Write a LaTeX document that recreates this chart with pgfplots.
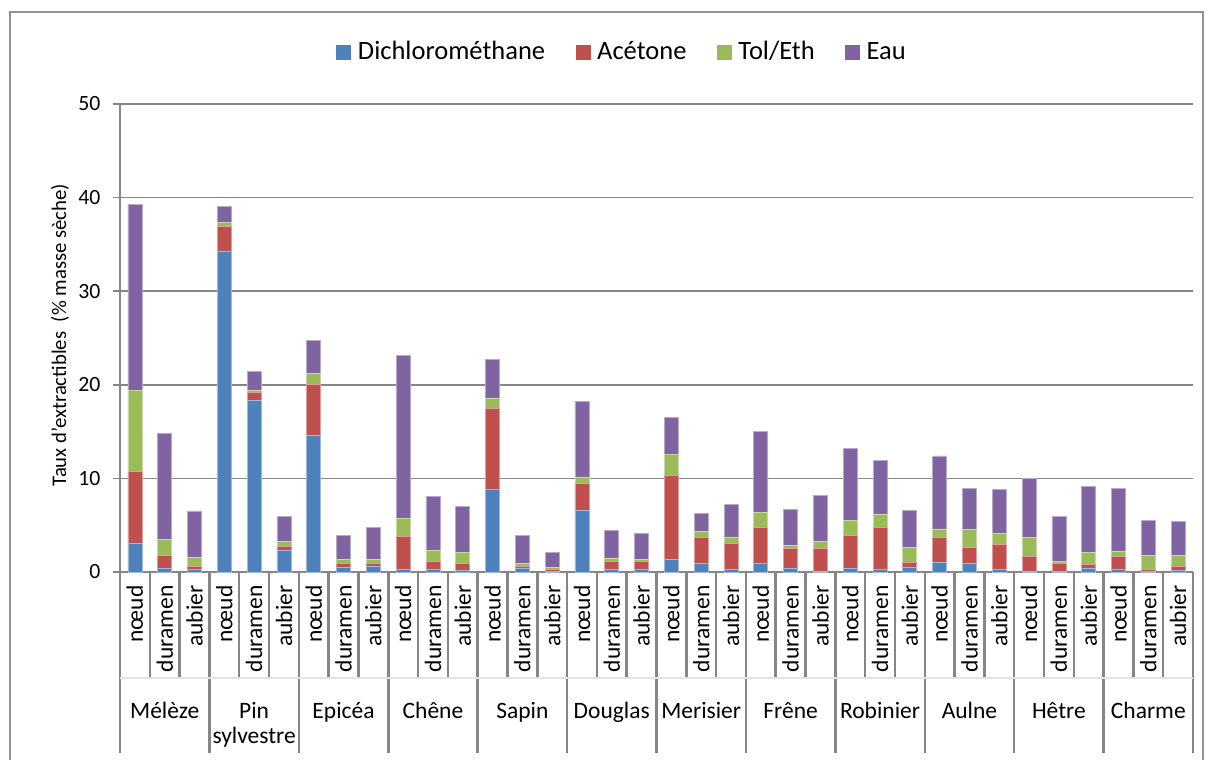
\documentclass[border=0pt]{standalone}
\usepackage{fontspec}
\setmainfont{Carlito}
\usepackage{pgfplots}
\pgfplotsset{compat=1.18}
\usepackage{pgfplotstable}

\definecolor{cD}{HTML}{4F81BD}
\definecolor{cA}{HTML}{C0504D}
\definecolor{cT}{HTML}{9BBB59}
\definecolor{cE}{HTML}{8064A2}
\definecolor{axgray}{HTML}{868686}
\definecolor{framegray}{HTML}{929292}

% taux d'extractibles par solvant (% masse seche), 12 essences x (noeud, duramen, aubier)
\pgfplotstableread{
x  D     A     T     E
0  3.1   7.6   8.7   19.9
1  0.4   1.35  1.75  11.3
2  0.3   0.27  0.96  5.0
3  34.3  2.6   0.4   1.8
4  18.3  0.9   0.2   2.0
5  2.3   0.4   0.6   2.6
6  14.6  5.4   1.2   3.55
7  0.5   0.4   0.5   2.5
8  0.6   0.3   0.4   3.5
9  0.3   3.5   1.9   17.4
10 0.3   0.8   1.2   5.8
11 0.2   0.7   1.2   4.9
12 8.8   8.7   1.1   4.1
13 0.35  0.2   0.4   3.0
14 0.1   0.2   0.15  1.6
15 6.55  2.9   0.7   8.1
16 0.3   0.8   0.4   2.9
17 0.3   0.8   0.25  2.75
18 1.35  8.95  2.3   3.9
19 0.9   2.75  0.7   1.95
20 0.3   2.75  0.7   3.5
21 0.95  3.85  1.6   8.6
22 0.35  2.2   0.3   3.85
23 0.1   2.4   0.77  4.93
24 0.35  3.55  1.6   7.7
25 0.3   4.5   1.4   5.7
26 0.46  0.6   1.6   3.9
27 1.0   2.67  0.93  7.8
28 0.9   1.7   1.95  4.4
29 0.3   2.6   1.27  4.63
30 0.1   1.6   2.0   6.3
31 0.05  0.85  0.25  4.75
32 0.4   0.4   1.27  7.1
33 0.3   1.35  0.6   6.7
34 0.1   0.15  1.55  3.7
35 0.15  0.5   1.15  3.6
}\extrtab

\newcommand{\catfont}{\fontsize{9.4}{11}\selectfont}

\begin{document}
\begin{tikzpicture}
\begin{axis}[
    at={(0,0)}, anchor=south west,
    scale only axis, width=429.2pt, height=187.2pt,
    ybar stacked, bar width=0.47,
    xmin=-0.5, xmax=35.5, ymin=0, ymax=50,
    ytick={0,10,...,50}, xtick=\empty,
    axis y line*=left, axis x line*=bottom,
    axis line style={draw=axgray, line width=1pt, -},
    ymajorgrids, grid style={draw=axgray, line width=0.6pt},
    tick align=outside, major tick length=2.8pt,
    ytick style={draw=axgray, line width=0.6pt},
    yticklabel style={font=\fontsize{8.7}{10}\selectfont, inner sep=0pt, xshift=-4.8pt},
    /pgf/number format/assume math mode=true,
    ylabel={Taux d'extractibles\ \ (\% masse sèche)},
    ylabel style={at={(axis description cs:-0.0559,0.506)}, anchor=center,
        font=\fontsize{8.3}{10}\selectfont},
    clip=false,
    legend columns=4,
    legend style={at={(0.2013,1.110)}, anchor=west, draw=none, fill=none, inner sep=0pt,
        font=\fontsize{10.6}{12}\selectfont,
        nodes={inner sep=2.6pt},
        /tikz/every even column/.append style={column sep=9.6pt}},
    legend image code/.code={\draw[#1, draw=none] (0pt,-3pt) rectangle (6pt,3pt);},
]
\addplot[fill=cD, draw=cD!55!white, line width=0.3pt] table[x=x, y=D] {\extrtab};
\addplot[fill=cA, draw=cA!55!white, line width=0.3pt] table[x=x, y=A] {\extrtab};
\addplot[fill=cT, draw=cT!55!white, line width=0.3pt] table[x=x, y=T] {\extrtab};
\addplot[fill=cE, draw=cE!55!white, line width=0.3pt] table[x=x, y=E] {\extrtab};
\legend{Dichlorométhane, Acétone, Tol/Eth, Eau}

% axe des categories a deux niveaux
\draw[gray!22, line width=0.6pt] (axis cs:-0.5,-11.32) -- (axis cs:35.5,-11.32);
\pgfplotsinvokeforeach{0,...,11}{
  \draw[axgray, line width=1pt] (axis cs:3*#1+0.5,0) -- (axis cs:3*#1+0.5,-11.32);
  \draw[axgray, line width=1pt] (axis cs:3*#1+1.5,0) -- (axis cs:3*#1+1.5,-11.32);
  \node[rotate=90, anchor=east, inner sep=0pt, font=\catfont] at (axis cs:3*#1,-1.4) {nœud};
  \node[rotate=90, anchor=east, inner sep=0pt, font=\catfont] at (axis cs:3*#1+1,-1.4) {duramen};
  \node[rotate=90, anchor=east, inner sep=0pt, font=\catfont] at (axis cs:3*#1+2,-1.4) {aubier};
}
\pgfplotsinvokeforeach{0,...,12}{
  \draw[axgray, line width=1pt] (axis cs:3*#1-0.5,0) -- (axis cs:3*#1-0.5,-19.34);
}
\node[anchor=base, inner sep=0pt, font=\catfont] at (axis cs:1,-15.6) {Mélèze};
\node[anchor=base, inner sep=0pt, font=\catfont] at (axis cs:4,-15.6) {Pin};
\node[anchor=base, inner sep=0pt, font=\catfont] at (axis cs:4,-18.27) {sylvestre};
\node[anchor=base, inner sep=0pt, font=\catfont] at (axis cs:7,-15.6) {Epicéa};
\node[anchor=base, inner sep=0pt, font=\catfont] at (axis cs:10,-15.6) {Chêne};
\node[anchor=base, inner sep=0pt, font=\catfont] at (axis cs:13,-15.6) {Sapin};
\node[anchor=base, inner sep=0pt, font=\catfont] at (axis cs:16,-15.6) {Douglas};
\node[anchor=base, inner sep=0pt, font=\catfont] at (axis cs:19,-15.6) {Merisier};
\node[anchor=base, inner sep=0pt, font=\catfont] at (axis cs:22,-15.6) {Frêne};
\node[anchor=base, inner sep=0pt, font=\catfont] at (axis cs:25,-15.6) {Robinier};
\node[anchor=base, inner sep=0pt, font=\catfont] at (axis cs:28,-15.6) {Aulne};
\node[anchor=base, inner sep=0pt, font=\catfont] at (axis cs:31,-15.6) {Hêtre};
\node[anchor=base, inner sep=0pt, font=\catfont] at (axis cs:34,-15.6) {Charme};
\end{axis}
% cadre du graphique
\draw[framegray, line width=0.8pt] (-44pt,-75.2pt) -- (-44pt,224pt) -- (433.2pt,224pt) -- (433.2pt,-75.2pt);
\pgfresetboundingbox
\path[use as bounding box] (-48pt,228.8pt) rectangle (435.6pt,-75.2pt);
\end{tikzpicture}
\end{document}
